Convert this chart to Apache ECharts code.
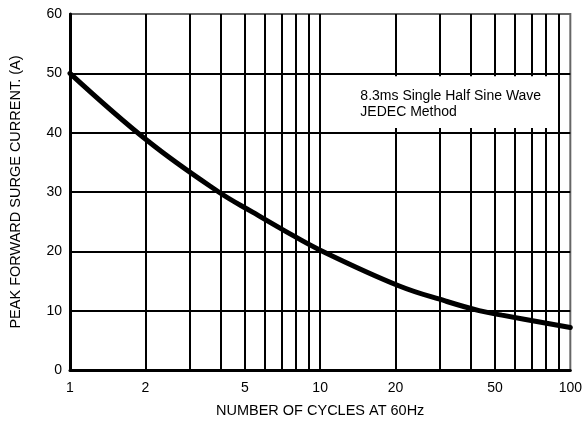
<!DOCTYPE html>
<html><head><meta charset="utf-8">
<script src="https://cdn.jsdelivr.net/npm/echarts@6/dist/echarts.min.js"></script>
<style>html,body{margin:0;padding:0;background:#fff}#c{width:585px;height:423px}</style>
</head><body><div id="c"></div>
<script>
const cycles = [1, 2.06, 3.93, 5.37, 7.19, 10, 20.6, 31.8, 43.2, 53.3, 100];
const current = [50, 38.5, 30.0, 26.6, 23.5, 20.2, 14.2, 11.6, 10.0, 9.25, 7.15];
const xTickLabels = [1, 2, 5, 10, 20, 50, 100];
const xGridValues = [2, 3, 4, 5, 6, 7, 8, 9, 10, 20, 30, 40, 50, 60, 70, 80, 90];
const noteLines = ['8.3ms Single Half Sine Wave', 'JEDEC Method'];
const noteBox = [[10.3, 49.5], [85, 40.8]];
const xName = 'NUMBER OF CYCLES AT 60Hz';
const yName = 'PEAK FORWARD SURGE CURRENT. (A)';

const FONT = "'Liberation Sans', Arial, sans-serif";
const chart = echarts.init(document.getElementById('c'), null, {renderer: 'canvas'});
chart.setOption({
  animation: false,
  backgroundColor: '#fff',
  textStyle: {fontFamily: FONT},
  grid: {left: 68, right: 13, top: 14, bottom: 53, show: true, borderColor: '#666', borderWidth: 2, backgroundColor: '#fff'},
  xAxis: {
    type: 'log', logBase: 10, min: 1, max: 100,
    name: xName, nameLocation: 'middle', nameGap: 33,
    nameTextStyle: {fontFamily: FONT, fontSize: 14.5, color: '#000'},
    axisLine: {show: true, lineStyle: {color: '#000', width: 3}},
    axisTick: {show: false},
    splitLine: {show: false},
    minorTick: {show: false},
    axisLabel: {customValues: xTickLabels, fontFamily: FONT, fontSize: 14, color: '#000', margin: 11}
  },
  yAxis: {
    type: 'value', min: 0, max: 60, interval: 10,
    name: yName, nameLocation: 'middle', nameGap: 47,
    nameTextStyle: {fontFamily: FONT, fontSize: 14.5, color: '#000'},
    axisLine: {show: true, lineStyle: {color: '#000', width: 3}},
    axisTick: {show: false},
    splitLine: {show: true, showMinLine: false, showMaxLine: false, lineStyle: {color: '#000', width: 2}},
    axisLabel: {fontFamily: FONT, fontSize: 14, color: '#000', margin: 8}
  },
  series: [
    {
      type: 'line', z: 2, data: [], silent: true,
      markLine: {
        z: 2, silent: true, symbol: 'none', animation: false,
        label: {show: false},
        lineStyle: {color: '#000', width: 2, type: 'solid'},
        data: xGridValues.map(v => ({xAxis: v}))
      }
    },
    {
      type: 'line', z: 3, data: [], silent: true,
      markArea: {
        z: 3, silent: true, animation: false,
        itemStyle: {color: '#fff', borderWidth: 0},
        label: {
          show: true, position: [37, 12], align: 'left', verticalAlign: 'top',
          fontFamily: FONT, fontSize: 14, lineHeight: 16, color: '#000',
          formatter: noteLines.join('\n')
        },
        data: [[{coord: noteBox[0]}, {coord: noteBox[1]}]]
      }
    },
    {
      type: 'line', z: 4, smooth: 0.4, showSymbol: false, silent: true,
      lineStyle: {color: '#000', width: 5, cap: 'round'},
      data: cycles.map((c, i) => [c, current[i]])
    }
  ]
});
</script></body></html>
